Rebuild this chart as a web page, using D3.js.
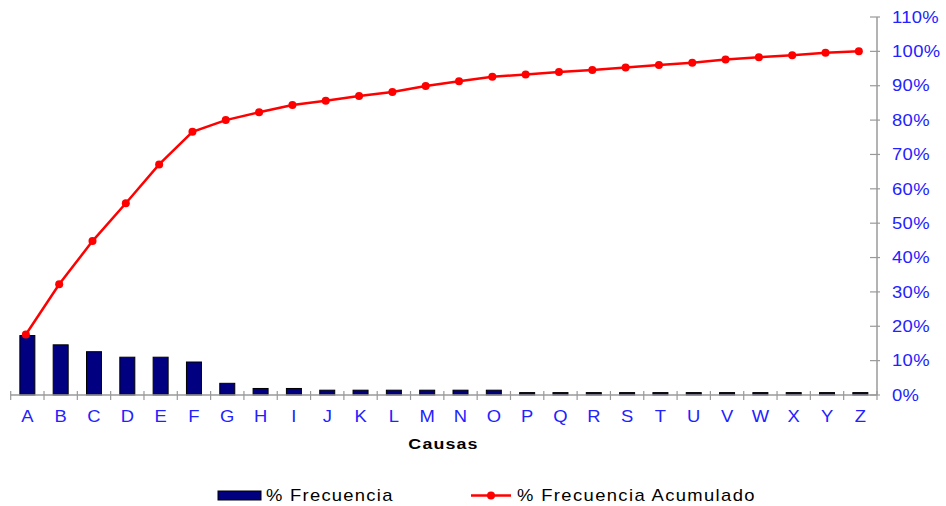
<!DOCTYPE html>
<html>
<head>
<meta charset="utf-8">
<script src="https://cdn.jsdelivr.net/npm/d3@7"></script>
<style>
  html, body { margin: 0; padding: 0; background: #fff; }
  svg { display: block; font-family: "Liberation Sans", Arial, sans-serif; }
</style>
</head>
<body>
<svg id="chart" width="946" height="506"></svg>
<script>
// Pareto data: causes, frequency share and cumulative share (percent)
const causas = ["A","B","C","D","E","F","G","H","I","J","K","L","M","N","O","P","Q","R","S","T","U","V","W","X","Y","Z"];
const frecuencia = [17.3, 14.6, 12.6, 11.0, 11.0, 9.6, 3.4, 1.9, 1.9, 1.4, 1.4, 1.4, 1.4, 1.4, 1.4, 0.7, 0.7, 0.7, 0.7, 0.7, 0.7, 0.7, 0.7, 0.7, 0.7, 0.7];
const acumulado = [17.6, 32.2, 44.8, 55.8, 67.1, 76.6, 80.0, 82.3, 84.4, 85.6, 87.0, 88.2, 89.9, 91.3, 92.6, 93.3, 94.0, 94.6, 95.3, 96.0, 96.7, 97.6, 98.3, 98.9, 99.6, 100.0];
const yTicks = [0, 10, 20, 30, 40, 50, 60, 70, 80, 90, 100, 110];

const svg = d3.select("#chart");
const plotLeft = 10.7, plotRight = 877, plotTop = 17, plotBottom = 395;
const axisColor = "#9a9a9a";
const textColor = "#2222ff";
const stretch = 1.15; // text is drawn slightly widened

// Places a horizontally widened text label at (x, y)
function label(parent, x, y, str, opts) {
  const o = Object.assign({ size: 16, fill: "#000", anchor: "start", weight: "normal", spacing: 0 }, opts);
  return parent.append("text")
    .attr("transform", `translate(${x},${y}) scale(${stretch},1)`)
    .attr("font-size", o.size)
    .attr("font-weight", o.weight)
    .attr("letter-spacing", o.spacing)
    .attr("text-anchor", o.anchor)
    .attr("fill", o.fill)
    .text(str);
}

const x = d3.scaleBand().domain(causas).range([plotLeft, plotRight]).paddingInner(0).paddingOuter(0);
const y = d3.scaleLinear().domain([0, 110]).range([plotBottom, plotTop]);

// Bars
const barW = x.bandwidth() * 0.45;
svg.append("g").selectAll("rect")
  .data(causas.map((c, i) => ({ c, v: frecuencia[i] })))
  .join("rect")
  .attr("x", d => x(d.c) + (x.bandwidth() - barW) / 2)
  .attr("y", d => y(d.v))
  .attr("width", barW)
  .attr("height", d => plotBottom - y(d.v))
  .attr("fill", "#000080")
  .attr("stroke", "#000")
  .attr("stroke-width", 1);

// Bottom axis with crossing ticks
const gx = svg.append("g");
gx.append("line").attr("x1", plotLeft).attr("x2", plotRight).attr("y1", plotBottom).attr("y2", plotBottom)
  .attr("stroke", axisColor).attr("stroke-width", 1.5);
const xEdges = causas.map(c => x(c)).concat([plotRight]);
gx.selectAll("line.tick").data(xEdges).join("line").attr("class", "tick")
  .attr("x1", d => d).attr("x2", d => d).attr("y1", plotBottom - 4).attr("y2", plotBottom + 5)
  .attr("stroke", axisColor).attr("stroke-width", 1.2);
causas.forEach(c => label(gx, x(c) + x.bandwidth() / 2, 422, c, { fill: textColor, anchor: "middle" }));

label(svg, 443.5, 449, "Causas", { size: 15.5, weight: "bold", anchor: "middle", spacing: 1 });

// Right percentage axis
const gy = svg.append("g");
gy.append("line").attr("x1", plotRight).attr("x2", plotRight).attr("y1", y(110)).attr("y2", plotBottom)
  .attr("stroke", axisColor).attr("stroke-width", 1.5);
gy.selectAll("line.tick").data(yTicks).join("line").attr("class", "tick")
  .attr("x1", plotRight - 7).attr("x2", plotRight + 3)
  .attr("y1", d => y(d)).attr("y2", d => y(d))
  .attr("stroke", axisColor).attr("stroke-width", 1.2);
yTicks.forEach(t => label(gy, 892, y(t) + 5.7, t + "%", { fill: textColor, spacing: 0.3 }));

// Cumulative line with markers
const pts = causas.map((c, i) => [x(c) + x.bandwidth() / 2 - 1.5, y(acumulado[i])]);
svg.append("path").attr("d", d3.line()(pts))
  .attr("fill", "none").attr("stroke", "#ff0000").attr("stroke-width", 2.5);
svg.append("g").selectAll("circle").data(pts).join("circle")
  .attr("cx", d => d[0]).attr("cy", d => d[1]).attr("r", 4)
  .attr("fill", "#ff0000");

// Legend
const lg = svg.append("g");
lg.append("rect").attr("x", 218).attr("y", 491).attr("width", 43).attr("height", 9)
  .attr("fill", "#000080").attr("stroke", "#000").attr("stroke-width", 1);
label(lg, 266, 501, "% Frecuencia", { spacing: 1.1 });
lg.append("line").attr("x1", 471).attr("x2", 511).attr("y1", 495.5).attr("y2", 495.5)
  .attr("stroke", "#ff0000").attr("stroke-width", 2.5);
lg.append("circle").attr("cx", 491).attr("cy", 495.5).attr("r", 4).attr("fill", "#ff0000");
label(lg, 517, 501, "% Frecuencia Acumulado", { spacing: 1.2 });
</script>
</body>
</html>
